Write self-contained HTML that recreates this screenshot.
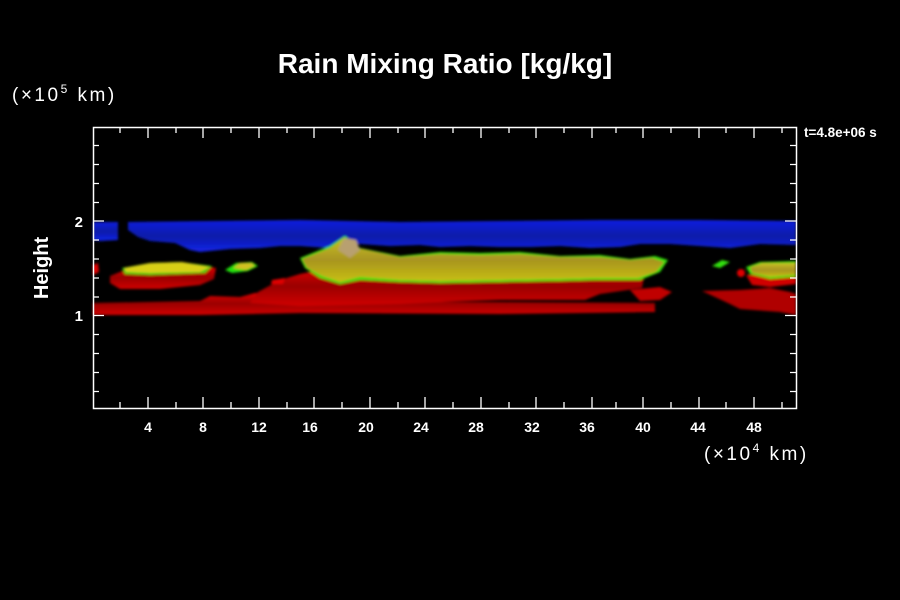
<!DOCTYPE html>
<html><head><style>
html,body{margin:0;padding:0;background:#000;width:900px;height:600px;overflow:hidden}
svg{display:block}
text{font-family:"Liberation Sans",sans-serif;fill:#fff}
</style></head><body>
<svg width="900" height="600" viewBox="0 0 900 600">
<defs>
<filter id="b" x="-5%" y="-20%" width="110%" height="140%"><feGaussianBlur stdDeviation="1.2"/></filter>
<linearGradient id="yl" x1="0" y1="0" x2="0" y2="1"><stop offset="0" stop-color="#c8c020"/><stop offset="0.5" stop-color="#a89420"/><stop offset="1" stop-color="#c8c010"/></linearGradient>
<linearGradient id="rd" x1="0" y1="0" x2="0" y2="1"><stop offset="0" stop-color="#e00000"/><stop offset="0.5" stop-color="#9a0000"/><stop offset="1" stop-color="#d00000"/></linearGradient>
<linearGradient id="bl" x1="0" y1="0" x2="0" y2="1"><stop offset="0" stop-color="#1020e0"/><stop offset="0.5" stop-color="#0a1aa8"/><stop offset="1" stop-color="#1424e8"/></linearGradient>
</defs>
<text x="445" y="73" font-size="28" font-weight="bold" text-anchor="middle">Rain Mixing Ratio [kg/kg]</text>
<text x="12" y="101" font-size="19" letter-spacing="2.5">(×10<tspan font-size="12" dy="-8">5</tspan><tspan dy="8"> km)</tspan></text>
<text x="804" y="137" font-size="13.5" font-weight="bold">t=4.8e+06 s</text>
<text x="48" y="268" font-size="20" font-weight="bold" text-anchor="middle" transform="rotate(-90 48 268)">Height</text>
<g font-size="15" font-weight="bold" text-anchor="end">
<text x="83" y="227">2</text><text x="83" y="321">1</text></g>
<g font-size="14" font-weight="bold" text-anchor="middle">
<text x="148" y="432">4</text><text x="203" y="432">8</text><text x="259" y="432">12</text><text x="310" y="432">16</text><text x="366" y="432">20</text><text x="421" y="432">24</text><text x="476" y="432">28</text><text x="532" y="432">32</text><text x="587" y="432">36</text><text x="643" y="432">40</text><text x="698" y="432">44</text><text x="754" y="432">48</text></g>
<text x="704" y="460" font-size="19" letter-spacing="2.5">(×10<tspan font-size="12" dy="-8">4</tspan><tspan dy="8"> km)</tspan></text>

<g filter="url(#b)">
<path fill="url(#bl)" d="M93,222 L118,222 L118,240 L100,241 L93,240 Z"/>
<path fill="url(#bl)" d="M128,222 L300,220 L400,222 L500,221 L600,220 L700,220 L796,221 L796,245 L760,244 L730,248 L700,246 L670,244 L640,244 L620,247 L590,248 L560,246 L530,247 L500,247 L470,246 L440,247 L420,245 L390,246 L360,244 L330,248 L300,246 L280,246 L260,248 L230,249 L200,252 L190,250 L175,243 L150,241 L138,237 L128,230 Z"/>
<path fill="url(#rd)" d="M93,303 L200,301 L210,296 L240,297 L255,293 L300,292 L400,302 L500,302 L655,303 L655,312 L500,314 L300,313 L200,315 L93,315 Z"/>
<path fill="url(#rd)" d="M250,303 L258,292 L280,280 L300,274 L330,268 L420,272 L520,270 L600,266 L645,272 L642,288 L600,294 L585,300 L500,300 L440,302 L400,304 L300,306 Z"/>
<path fill="#c00000" d="M630,290 L660,287 L672,292 L660,300 L640,301 Z"/>
<path fill="#30e010" d="M300,258 L330,246 L345,236 L360,248 L400,256 L440,252 L480,253 L520,252 L560,256 L600,255 L630,259 L655,256 L668,260 L660,272 L640,280 L600,280 L560,281 L500,282 L440,283 L400,282 L360,280 L340,284 L320,278 L305,268 Z"/>
<path fill="url(#yl)" d="M302,259 L330,248 L344,238 L358,248 L400,257 L440,254 L480,255 L520,254 L560,257 L600,257 L630,260 L652,258 L664,262 L656,272 L638,278 L600,278 L560,279 L500,280 L440,281 L400,280 L360,277 L340,282 L322,276 L307,268 Z"/>
<path fill="#b8a070" d="M338,250 L344,238 L356,240 L360,250 L350,258 Z"/>
<path fill="url(#rd)" d="M110,276 L130,268 L200,266 L216,268 L214,279 L200,285 L160,289 L120,289 L110,283 Z"/>
<path fill="#20d010" d="M122,268 L150,263 L180,262 L212,266 L205,273 L150,275 L125,274 Z"/>
<path fill="#d8d018" d="M124,268 L150,263 L182,262 L210,267 L200,272 L150,273 L126,272 Z"/>
<path fill="#20e010" d="M225,270 L236,263 L252,262 L258,266 L248,271 L232,273 Z"/>
<path fill="#d0c020" d="M233,268 L240,263 L252,263 L255,266 L246,270 Z"/>
<path fill="#e00000" d="M93,265 L98,263 L99,272 L93,275 Z"/>
<path fill="#e00000" d="M272,280 L285,278 L283,284 L271,284 Z"/>
<path fill="#d00000" d="M746,275 L770,274 L796,270 L796,284 L770,287 L752,285 Z"/>
<path fill="#30e010" d="M746,267 L760,262 L796,261 L796,277 L770,279 L750,274 Z"/>
<path fill="url(#yl)" d="M750,267 L762,263 L796,263 L796,275 L770,277 L752,273 Z"/>
<path fill="#30e010" d="M712,266 L722,260 L730,262 L720,268 Z"/>
<circle cx="741" cy="273" r="4" fill="#e00000"/>
<path fill="#b00000" d="M702,291 L740,290 L770,288 L790,292 L796,294 L796,315 L780,312 L740,309 L730,304 L715,297 Z"/>
</g>

<rect x="93.5" y="127.5" width="703" height="281" fill="none" stroke="#fff" stroke-width="1.5"/>
<g stroke="#fff" stroke-width="1.3">
<path d="M148,127v11M203,127v11M259,127v11M314,127v11M370,127v11M425,127v11M481,127v11M536,127v11M592,127v11M643,127v11M699,127v11M754,127v11
M120,127v6M176,127v6M231,127v6M287,127v6M342,127v6M398,127v6M453,127v6M509,127v6M564,127v6M616,127v6M671,127v6M726,127v6M782,127v6
M148,408v-11M203,408v-11M259,408v-11M314,408v-11M370,408v-11M425,408v-11M481,408v-11M536,408v-11M592,408v-11M643,408v-11M699,408v-11M754,408v-11
M120,408v-6M176,408v-6M231,408v-6M287,408v-6M342,408v-6M398,408v-6M453,408v-6M509,408v-6M564,408v-6M616,408v-6M671,408v-6M726,408v-6M782,408v-6
M93,221h11M93,315.5h11M796,221h-11M796,315.5h-11
M93,145.5h6M93,164.5h6M93,183.5h6M93,202.5h6M93,240h6M93,259h6M93,278h6M93,297h6M93,334.5h6M93,353.5h6M93,372.5h6M93,391.5h6
M796,145.5h-6M796,164.5h-6M796,183.5h-6M796,202.5h-6M796,240h-6M796,259h-6M796,278h-6M796,297h-6M796,334.5h-6M796,353.5h-6M796,372.5h-6M796,391.5h-6"/>
</g>
</svg>
</body></html>
